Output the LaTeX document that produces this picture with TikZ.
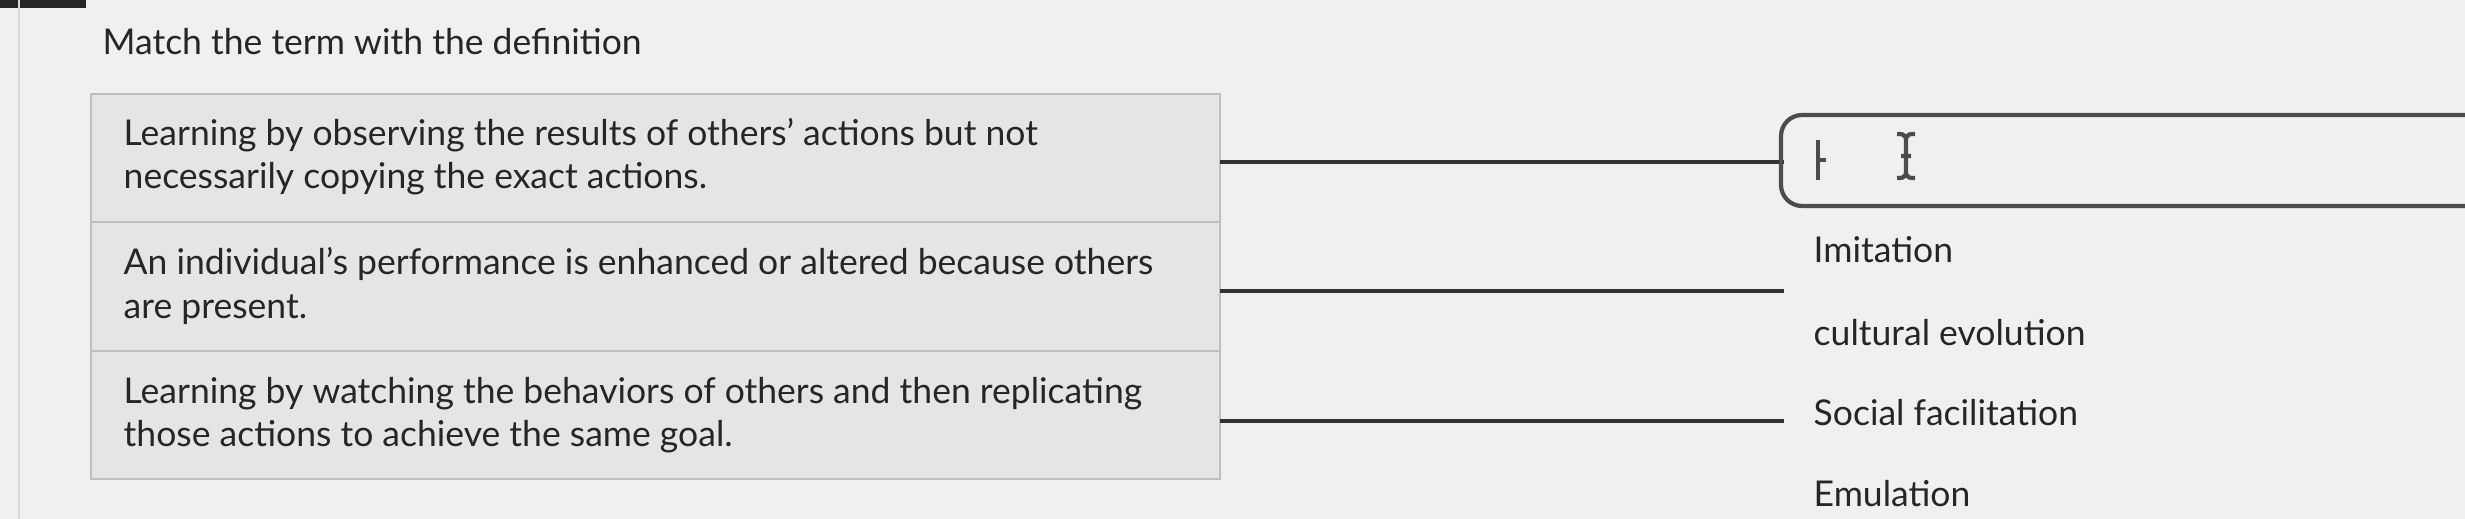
\documentclass[tikz,border=0pt]{standalone}
\usepackage{fontspec}
\setmainfont{Lato}
\begin{document}
\begin{tikzpicture}[x=0.01cm,y=-0.01cm,
  txt/.style={anchor=west,inner sep=0pt,font=\fontsize{10.1}{12.3}\selectfont,text=black!85,align=left},
  cell/.style={draw=black!25,fill=black!10,line width=0.6pt},
  conn/.style={draw=black!80,line width=1pt}]
\fill[black!6] (0,0) rectangle (2465,519);
\useasboundingbox (0,0) rectangle (2465,519);
\fill[black!85] (0,0) rectangle (86,8);
\draw[black!15] (19,0) -- (19,519);
\node[txt] (title) at (102,42) {Match the term with the definition};
\draw[cell] (91,94) rectangle (1220,222);
\draw[cell] (91,222) rectangle (1220,351);
\draw[cell] (91,351) rectangle (1220,479);
\node[txt] (d1) at (123,157) {Learning by observing the results of others{\char"27} actions but not\\necessarily copying the exact actions.};
\node[txt] (d2) at (123,286) {An individual's performance is enhanced or altered because others\\are present.};
\node[txt] (d3) at (123,415) {Learning by watching the behaviors of others and then replicating\\those actions to achieve the same goal.};
\coordinate (e1) at (1220,162); \coordinate (f1) at (1784,162);
\coordinate (e2) at (1220,291); \coordinate (f2) at (1784,291);
\coordinate (e3) at (1220,421); \coordinate (f3) at (1784,421);
\draw[conn] (e1) -- (f1);
\draw[conn] (e2) -- (f2);
\draw[conn] (e3) -- (f3);
\draw[black!70,line width=1.2pt,rounded corners=6pt] (2470,115) -- (1781,115) -- (1781,206) -- (2470,206);
\draw[black!70,line width=1.2pt] (1818,140) -- (1818,180) (1818,160) -- (1826,160);
\draw[black!70,line width=1.2pt] (1906,134) -- (1906,178) (1897,134) .. controls (1903,134) .. (1906,138) .. controls (1909,134) .. (1915,134)
  (1897,178) .. controls (1903,178) .. (1906,174) .. controls (1909,178) .. (1915,178) (1901,156) -- (1911,156);
\node[txt] (t1) at (1813,250) {Imitation};
\node[txt] (t2) at (1813,333) {cultural evolution};
\node[txt] (t3) at (1813,413) {Social facilitation};
\node[txt] (t4) at (1813,494) {Emulation};
\end{tikzpicture}
\end{document}
